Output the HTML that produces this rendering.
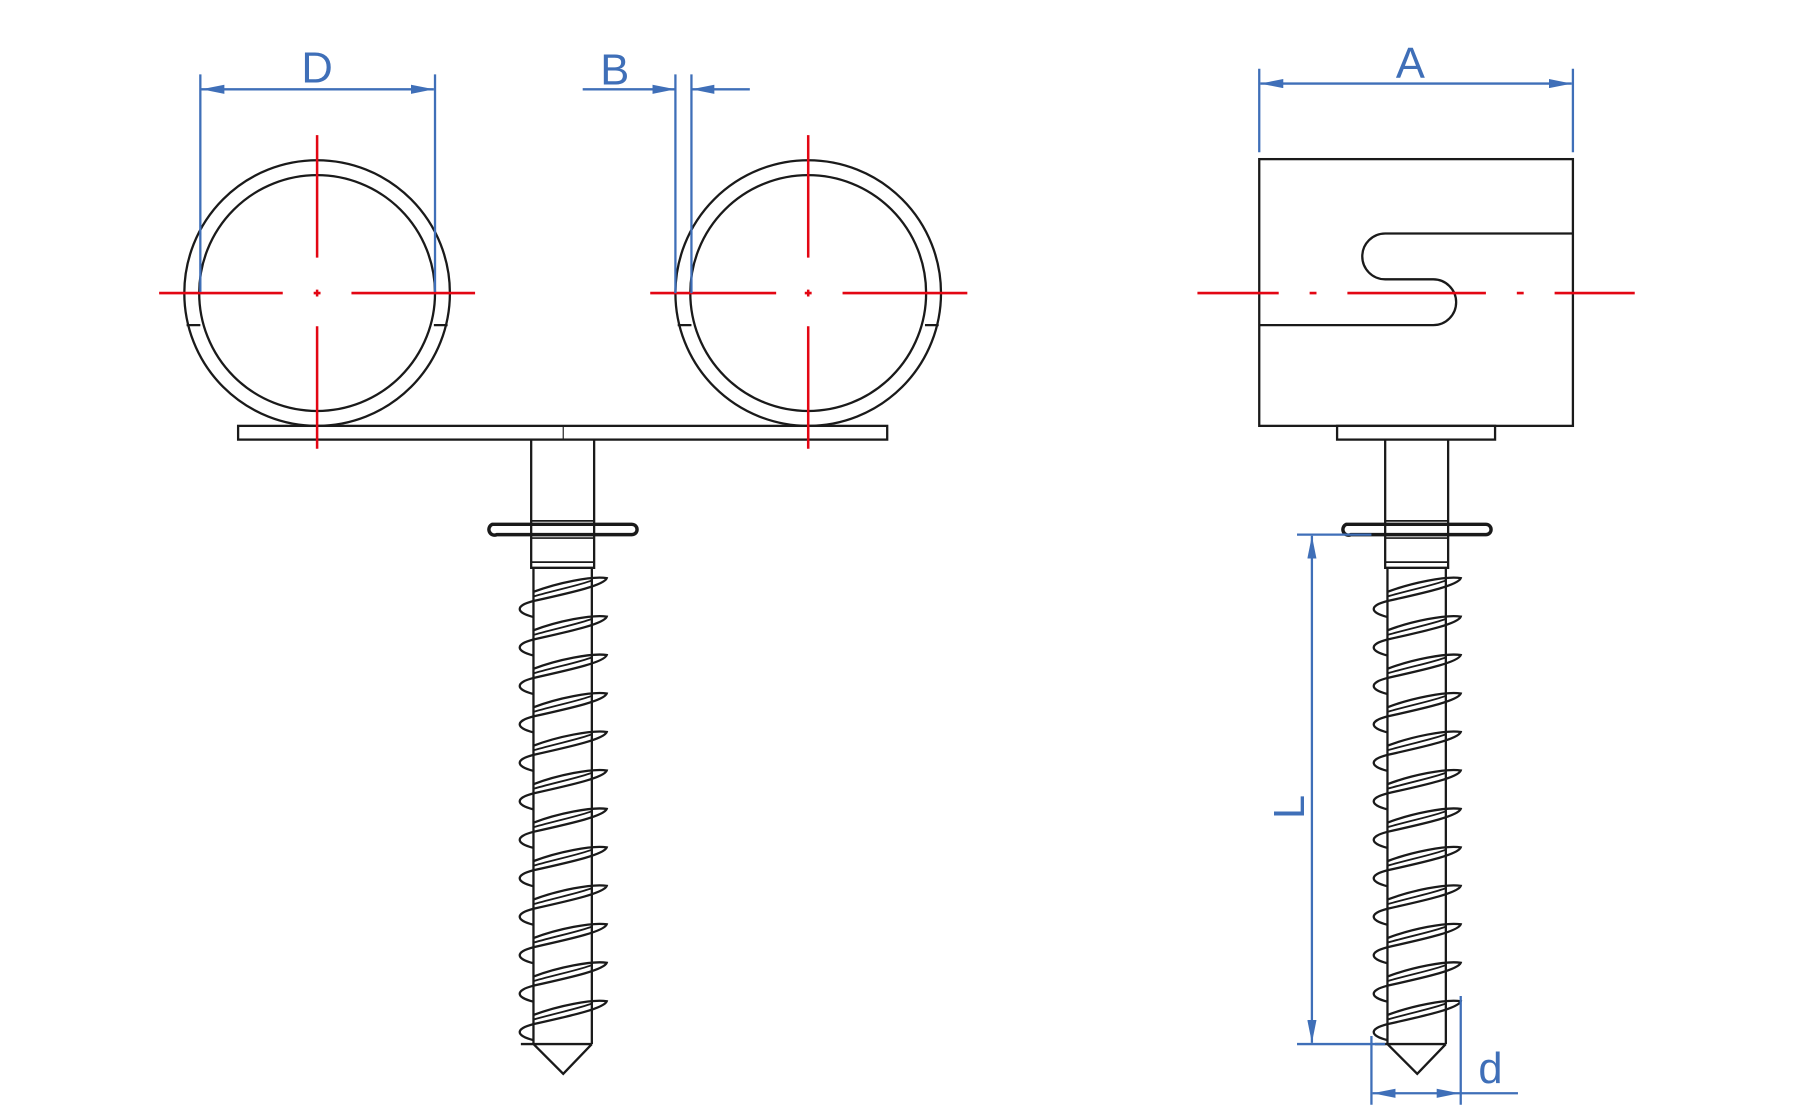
<!DOCTYPE html>
<html><head><meta charset="utf-8"><style>html,body{margin:0;padding:0;background:#fff}svg{display:block}</style></head>
<body>
<svg id="s" xmlns="http://www.w3.org/2000/svg" width="1795" height="1110" viewBox="0 0 1568 969.6" preserveAspectRatio="none">
<defs>
<marker id="ar" viewBox="0 0 20 8" refX="20" refY="4" markerWidth="20" markerHeight="8" markerUnits="userSpaceOnUse" orient="auto-start-reverse"><path d="M0,0 L20,4 L0,8 Z" fill="#3f6fb8"/></marker>
</defs>
<g fill="none" stroke="#1a1a1a" stroke-width="2">
<circle cx="277" cy="256" r="116"/><circle cx="277" cy="256" r="103"/>
<circle cx="706" cy="256" r="116"/><circle cx="706" cy="256" r="103"/>
<path d="M163,284H175M379,284H391M592,284H604M808,284H820"/>
<rect x="208" y="372" width="567" height="12" fill="#fff"/>
<path d="M492,372V384" stroke-width="1"/>
<rect x="1100" y="139" width="274" height="233"/>
<path d="M1374,204H1210A20,20 0 0 0 1210,244H1252A20,20 0 0 1 1252,284H1100"/>
<rect x="1168" y="372" width="138" height="12"/>
</g>
<g id="screws" fill="none" stroke="#1a1a1a" stroke-width="2"></g>
<g stroke="#e30613" stroke-width="2.2" fill="none">
<path d="M139,256H247M274,256H280M307,256H415M277,118V225M277,253V259M277,285V392"/>
<path d="M568,256H678M703,256H709M736,256H845M706,118V225M706,253V259M706,285V392"/>
<path d="M1046,256H1117M1144,256H1150M1177,256H1298M1325,256H1331M1358,256H1428"/>
</g>
<g stroke="#3f6fb8" stroke-width="2" fill="none">
<path d="M175,65V255M380,65V255"/>
<path d="M176,78H379" marker-start="url(#ar)" marker-end="url(#ar)"/>
<path d="M590,65V256M604,65V256"/>
<path d="M509,78H590" marker-end="url(#ar)"/>
<path d="M655,78H604" marker-end="url(#ar)"/>
<path d="M1100,60V133M1374,60V133"/>
<path d="M1101,73H1373" marker-start="url(#ar)" marker-end="url(#ar)"/>
<path d="M1133,467H1198M1133,912H1210"/>
<path d="M1146,468V911" marker-start="url(#ar)" marker-end="url(#ar)"/>
<path d="M1198,905V965M1276,870V965"/>
<path d="M1199,955H1275" marker-start="url(#ar)" marker-end="url(#ar)"/>
<path d="M1275,955H1326"/>
</g>
<g fill="#3f6fb8" font-family="'Liberation Sans',sans-serif" font-size="38" text-anchor="middle">
<text x="277" y="72">D</text>
<text x="537" y="74">B</text>
<text x="1232" y="68">A</text>
<text x="1302" y="946">d</text>
<text x="0" y="0" transform="translate(1139,705) rotate(-90)">L</text>
</g>
<script>
var g=document.getElementById('screws'),NS='http://www.w3.org/2000/svg';
function p(d,w){var e=document.createElementNS(NS,'path');e.setAttribute('d',d);if(w)e.setAttribute('stroke-width',w);g.appendChild(e);}
function screw(c){
 var L=c-28,R=c+27;
 p('M'+L+',384V496H'+R+'V384');
 p('M'+(c-62)+',458H'+(c+60)+'A4.5,4.5 0 0 1 '+(c+60)+',467H'+(c-58)+'A4.5,4.5 0 0 1 '+(c-62)+',458Z',3);
 p('M'+L+',455H'+R+'M'+L+',470H'+R+'M'+L+',491H'+R,1.5);
 var l=c-26,r=c+25;
 p('M'+l+',496V912M'+r+',496V912');
 p('M'+(c-37)+',912H'+r+'M'+l+',912L'+c+',938L'+r+',912');
 for(var i=0;i<12;i++){
  var y=505+i*33.6;
  p('M'+l+',' +(y+12)+' C'+(c-5)+','+(y+4)+' '+(c+25)+','+(y-2)+' '+(c+38)+','+y+
    ' C'+(c+36)+','+(y+6)+' '+(c+10)+','+(y+12)+' '+l+','+(y+20)+
    ' C'+(c-42)+','+(y+24)+' '+(c-42)+','+(y+30)+' '+l+','+(y+34),2);
  p('M'+l+','+(y+16)+' C'+(c-5)+','+(y+10)+' '+(c+15)+','+(y+6)+' '+r+','+(y+2),1.6);
 }
}
screw(492);screw(1238);
</script>
</svg>
</body></html>
